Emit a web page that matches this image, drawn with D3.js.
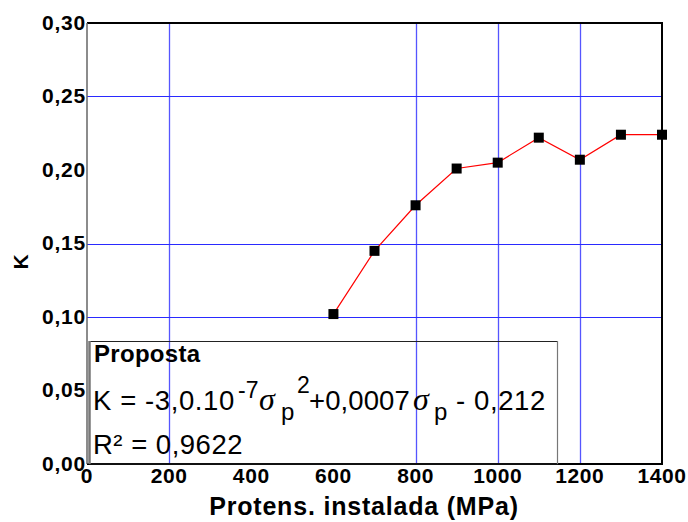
<!DOCTYPE html>
<html><head><meta charset="utf-8">
<script src="https://cdn.jsdelivr.net/npm/d3@7"></script>
<style>body{margin:0;background:#fff}svg{display:block}text{font-family:"Liberation Sans",Arial,sans-serif}</style>
</head><body><svg id="c" width="688" height="522"></svg>
<script>
const xValues = [600, 700, 800, 900, 1000, 1100, 1200, 1300, 1400];
const kValues = [0.102, 0.145, 0.176, 0.201, 0.205, 0.222, 0.207, 0.224, 0.224];
const xTicks = [0, 200, 400, 600, 800, 1000, 1200, 1400];
const yTicks = [0, 0.05, 0.10, 0.15, 0.20, 0.25, 0.30];
const xGrid = [200, 800, 1000, 1200];
const yGrid = [0.10, 0.15, 0.25];
const xTitle = "Protens. instalada (MPa)";
const yTitle = "K";
const legendTitle = "Proposta";
const legendR2 = "R² = 0,9622";
// equation pieces: text, role
const eqParts = [
  ["K = -3,0.10", "main"], ["-7", "sup"], ["σ", "sym"], ["p", "sub"], ["2", "sup2"],
  ["+0,0007", "main2"], ["σ", "sym"], ["p", "sub"], ["- 0,212", "main"]
];

const svg = d3.select("#c");
const L = 87, R = 662, T = 23, B = 464;
const x = d3.scaleLinear().domain([0, 1400]).range([L, R]);
const y = d3.scaleLinear().domain([0, 0.30]).range([B, T]);
const fmt = v => d3.format(".2f")(v).replace(".", ",");
const crisp = v => Math.round(v) + 0.5;

// grid
svg.append("g").selectAll("line").data(xGrid).join("line")
  .attr("x1", d => crisp(x(d))).attr("x2", d => crisp(x(d))).attr("y1", T).attr("y2", B)
  .attr("stroke", "#5555ff").attr("stroke-width", 1.3);
svg.append("g").selectAll("line").data(yGrid).join("line")
  .attr("x1", L).attr("x2", R).attr("y1", d => crisp(y(d))).attr("y2", d => crisp(y(d)))
  .attr("stroke", "#2a2aff").attr("stroke-width", 1.1);

// frame
svg.append("line").attr("x1", L).attr("x2", R + 1).attr("y1", T).attr("y2", T).attr("stroke", "#000").attr("stroke-width", 2);
svg.append("line").attr("x1", R).attr("x2", R).attr("y1", T).attr("y2", B).attr("stroke", "#000").attr("stroke-width", 2);
svg.append("line").attr("x1", L).attr("x2", R + 1).attr("y1", B).attr("y2", B).attr("stroke", "#000").attr("stroke-width", 2);
svg.append("line").attr("x1", L).attr("x2", L).attr("y1", T).attr("y2", B).attr("stroke", "#666").attr("stroke-width", 1.5);

// axes labels
svg.append("g").selectAll("text").data(yTicks).join("text")
  .attr("x", L - 1).attr("y", d => y(d)).attr("dy", "0.33em")
  .attr("text-anchor", "end").attr("font-size", 21).attr("font-weight", "bold").attr("letter-spacing", 0.8)
  .text(d => fmt(d));
svg.append("g").selectAll("text").data(xTicks).join("text")
  .attr("x", d => x(d)).attr("y", 483)
  .attr("text-anchor", "middle").attr("font-size", 21).attr("font-weight", "bold").attr("letter-spacing", 0.6)
  .text(d => d);
svg.append("text").attr("x", 364).attr("y", 515).attr("text-anchor", "middle")
  .attr("font-size", 25).attr("font-weight", "bold").attr("letter-spacing", 0.8).text(xTitle);
svg.append("text").attr("transform", "translate(28,262) rotate(-90)").attr("text-anchor", "middle")
  .attr("font-size", 21).attr("font-weight", "bold").text(yTitle);

// legend box
svg.append("rect").attr("x", 89.5).attr("y", 341.5).attr("width", 468).attr("height", B - 341.5)
  .attr("fill", "none").attr("stroke", "#222").attr("stroke-width", 1);
svg.append("line").attr("x1", 557.5).attr("x2", 557.5).attr("y1", 341).attr("y2", B).attr("stroke", "#777").attr("stroke-width", 1.2);
svg.append("line").attr("x1", 89.5).attr("x2", 89.5).attr("y1", 341).attr("y2", B).attr("stroke", "#777").attr("stroke-width", 2.5);

svg.append("text").attr("x", 94).attr("y", 362).attr("font-size", 24).attr("font-weight", "bold").attr("letter-spacing", 0.3).text(legendTitle);

const roleStyle = {
  main:  {size: 27.5, dy: 0, ls: 0.6},
  main2: {size: 27.5, dy: 0, ls: 0.1},
  sup:   {size: 23, dy: -12, ls: 0},
  sup2:  {size: 23, dy: -17, ls: 0},
  sym:   {size: 32, dy: 0, ls: 0},
  sub:   {size: 24, dy: 10, ls: 0}
};
const eqX = [93, 238, 259, 281, 297, 309, 413, 434, 456];
const eq = svg.append("text").attr("y", 410);
eqParts.forEach((p, i) => {
  const s = roleStyle[p[1]];
  const t = eq.append("tspan").attr("x", eqX[i]).attr("y", 410 + s.dy)
    .attr("font-size", s.size).attr("letter-spacing", s.ls).text(p[0]);
  if (p[1] === "sym") t.attr("font-style", "italic").attr("font-family", "Liberation Serif");
});
svg.append("text").attr("x", 93).attr("y", 454).attr("font-size", 27.5).attr("letter-spacing", 0.5).text(legendR2);

// series
const line = d3.line().x((d, i) => x(xValues[i])).y(d => y(d));
svg.append("path").datum(kValues).attr("d", line).attr("fill", "none").attr("stroke", "#ff0000").attr("stroke-width", 1.2);
svg.append("g").selectAll("rect").data(kValues).join("rect")
  .attr("x", (d, i) => x(xValues[i]) - 5).attr("y", d => y(d) - 5)
  .attr("width", 10).attr("height", 10).attr("fill", "#000");
</script></body></html>
